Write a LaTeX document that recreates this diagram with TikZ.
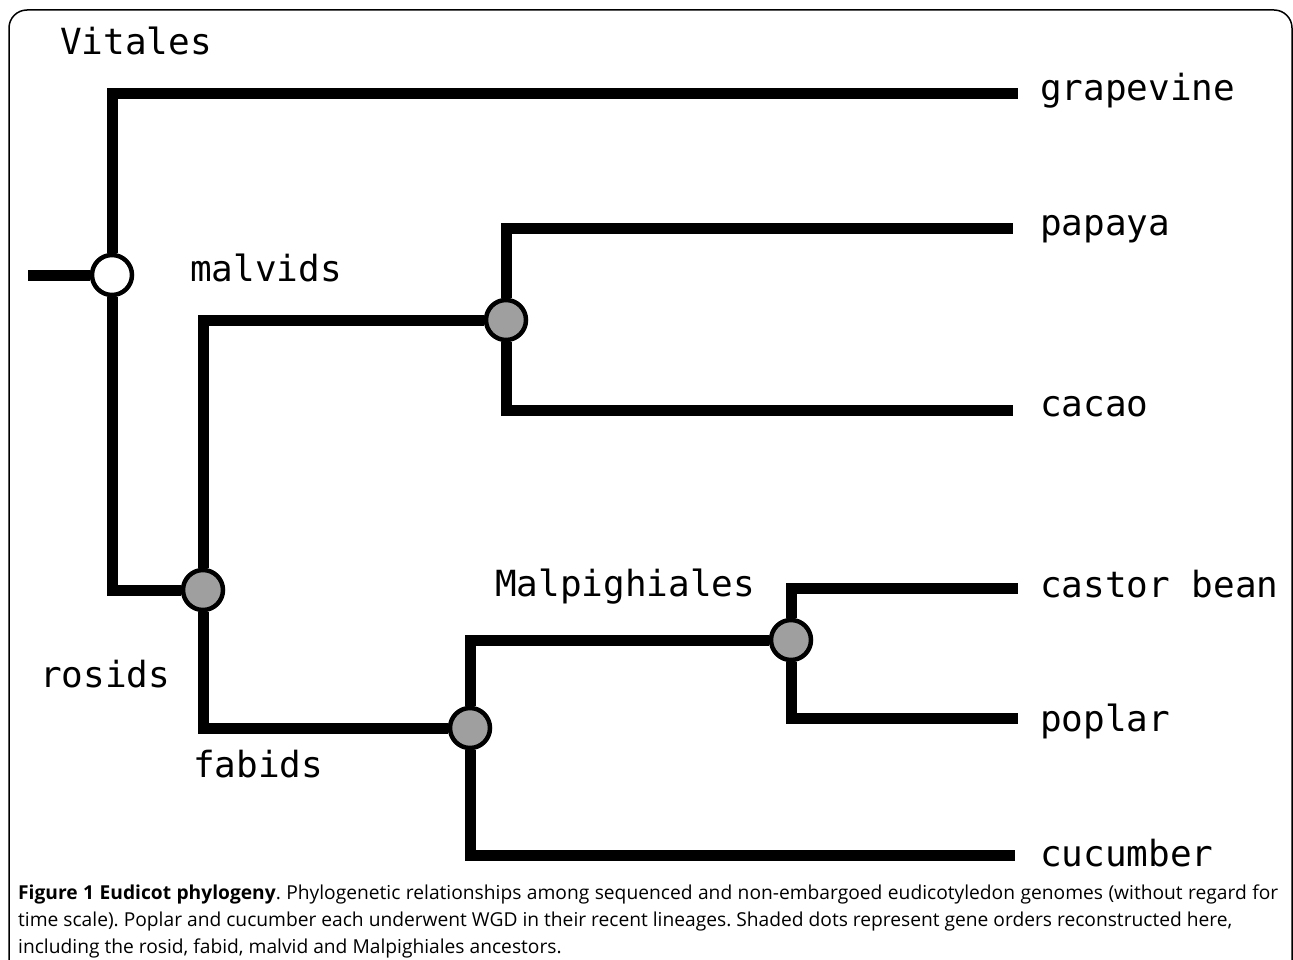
\documentclass[tikz,border=0pt]{standalone}
\usepackage{fontspec}
\setmainfont{Open Sans}
\newfontfamily\treefont{DejaVu Sans Mono}
\frenchspacing

\begin{document}
\begin{tikzpicture}[x=1pt,y=-1pt,
    branch/.style={line width=11pt},
    anc/.style={circle, draw, line width=4.5pt, fill=gray!75, minimum size=40pt, inner sep=0pt},
    clade/.style={anchor=base west, inner sep=0pt, font=\treefont\fontsize{36}{36}\selectfont},
    caption/.style={anchor=base west, inner sep=0pt, font=\fontsize{19.2}{22}\selectfont}]
		\useasboundingbox (0,0) rectangle (1293,960);
		% Frame
		\draw [line width=1.5pt, rounded corners=18pt] (9,960) -- (9,10) -- (1292,10) -- (1292,960);
		% Ancestral nodes
		\node [anc, fill=white] (root) at (112,275) {};
		\node [anc] (rosid) at (203,590) {};
		\node [anc] (malvid) at (506,320) {};
		\node [anc] (fabid) at (470,728) {};
		\node [anc] (malpig) at (791,640) {};
		% Branch tips
		\coordinate (stem) at (28,275);
		\coordinate (grapevine-tip) at (1018,94);
		\coordinate (papaya-tip) at (1013,229);
		\coordinate (cacao-tip) at (1013,410);
		\coordinate (castor-tip) at (1018,588);
		\coordinate (poplar-tip) at (1018,718);
		\coordinate (cucumber-tip) at (1015,855);
		% Branches
		\draw [branch] (stem) -- (root);
		\draw [branch] (root) |- (grapevine-tip);
		\draw [branch] (root) |- (rosid);
		\draw [branch] (rosid) |- (malvid);
		\draw [branch] (rosid) |- (fabid);
		\draw [branch] (malvid) |- (papaya-tip);
		\draw [branch] (malvid) |- (cacao-tip);
		\draw [branch] (fabid) |- (malpig);
		\draw [branch] (fabid) |- (cucumber-tip);
		\draw [branch] (malpig) |- (castor-tip);
		\draw [branch] (malpig) |- (poplar-tip);
		% Clade labels
		\node [clade] (vitales) at (60,55) {Vitales};
		\node [clade] (malvids) at (190,281) {malvids};
		\node [clade] (rosids) at (40,687) {rosids};
		\node [clade] (fabids) at (193,777) {fabids};
		\node [clade] (malpighiales) at (495,596) {Malpighiales};
		% Taxon labels
		\node [clade] (grapevine) at (1040,101) {grapevine};
		\node [clade] (papaya) at (1040,236) {papaya};
		\node [clade] (cacao) at (1040,416) {cacao};
		\node [clade] (castor) at (1040,597) {castor bean};
		\node [clade] (poplar) at (1040,731) {poplar};
		\node [clade] (cucumber) at (1040,866) {cucumber};
		% Caption
		\node [caption] (cap1) at (18,899) {\makebox[1260pt][s]{\textbf{Figure 1 Eudicot phylogeny}. Phylogenetic relationships among sequenced and non-embargoed eudicotyledon genomes (without regard for}};
		\node [caption] (cap2) at (18,926) {time scale). Poplar and cucumber each underwent WGD in their recent lineages. Shaded dots represent gene orders reconstructed here,};
		\node [caption] (cap3) at (18,953) {including the rosid, fabid, malvid and Malpighiales ancestors.};
\end{tikzpicture}
\end{document}
